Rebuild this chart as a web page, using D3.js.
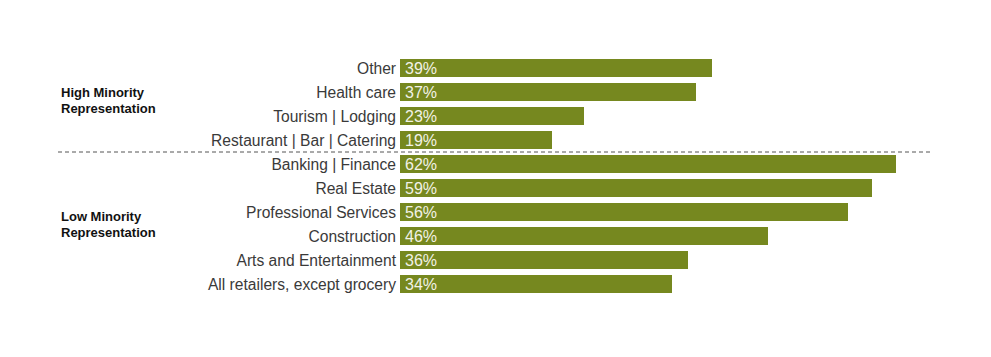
<!DOCTYPE html>
<html>
<head>
<meta charset="utf-8">
<script src="https://cdn.jsdelivr.net/npm/d3@7"></script>
<style>
  html, body { margin: 0; padding: 0; background: #fff; }
  svg { display: block; }
</style>
</head>
<body>
<svg id="chart" width="991" height="357"></svg>
<script>
const categories = [
  "Other", "Health care", "Tourism | Lodging", "Restaurant | Bar | Catering",
  "Banking | Finance", "Real Estate", "Professional Services", "Construction",
  "Arts and Entertainment", "All retailers, except grocery"
];
const values = [39, 37, 23, 19, 62, 59, 56, 46, 36, 34];
const groups = ["High", "High", "High", "High", "Low", "Low", "Low", "Low", "Low", "Low"];
const groupKeys = ["High", "Low"];
const groupLines = [["High Minority", "Representation"], ["Low Minority", "Representation"]];

const svg = d3.select("#chart");
const font = "'Liberation Sans', Arial, Helvetica, sans-serif";

const x = d3.scaleLinear().domain([0, 62]).range([400, 896]);
const y = d3.scaleBand().domain(categories).range([56, 296]).paddingInner(0.25).paddingOuter(0.125);

const data = categories.map((c, i) => ({ c, v: values[i], g: groups[i] }));

svg.selectAll("rect.bar").data(data).enter().append("rect")
  .attr("class", "bar")
  .attr("x", x(0))
  .attr("y", d => y(d.c))
  .attr("width", d => x(d.v) - x(0))
  .attr("height", y.bandwidth())
  .attr("fill", "#76881f");

svg.selectAll("text.cat").data(data).enter().append("text")
  .attr("class", "cat")
  .attr("x", x(0) - 4)
  .attr("y", d => y(d.c) + y.bandwidth() / 2)
  .attr("dy", "0.36em")
  .attr("text-anchor", "end")
  .attr("font-family", font)
  .attr("font-size", 15.6)
  .attr("fill", "#3a3a3a")
  .text(d => d.c);

svg.selectAll("text.val").data(data).enter().append("text")
  .attr("class", "val")
  .attr("x", x(0) + 5)
  .attr("y", d => y(d.c) + y.bandwidth() / 2)
  .attr("dy", "0.36em")
  .attr("font-family", font)
  .attr("font-size", 16)
  .attr("fill", "#f2f2e6")
  .text(d => d.v + "%");

// divider between groups
const lastHigh = categories[groups.lastIndexOf("High")];
const firstLow = categories[groups.indexOf("Low")];
const divY = (y(lastHigh) + y.bandwidth() + y(firstLow)) / 2;
svg.append("line")
  .attr("x1", 58).attr("x2", 930)
  .attr("y1", divY).attr("y2", divY)
  .attr("stroke", "#555")
  .attr("stroke-width", 1)
  .attr("stroke-dasharray", "4,3");

// group labels
const groupShift = { High: -4, Low: 0 };
groupKeys.forEach((key, gi) => {
  const members = data.filter(d => d.g === key);
  const top = y(members[0].c);
  const bottom = y(members[members.length - 1].c) + y.bandwidth();
  const mid = (top + bottom) / 2 + groupShift[key];
  const t = svg.append("text")
    .attr("x", 61)
    .attr("y", mid - 8)
    .attr("font-family", font)
    .attr("font-size", 13)
    .attr("font-weight", "bold")
    .attr("fill", "#111");
  groupLines[gi].forEach((ln, i) => {
    t.append("tspan").attr("x", 61).attr("dy", i === 0 ? "0.36em" : 16).text(ln);
  });
});
</script>
</body>
</html>
